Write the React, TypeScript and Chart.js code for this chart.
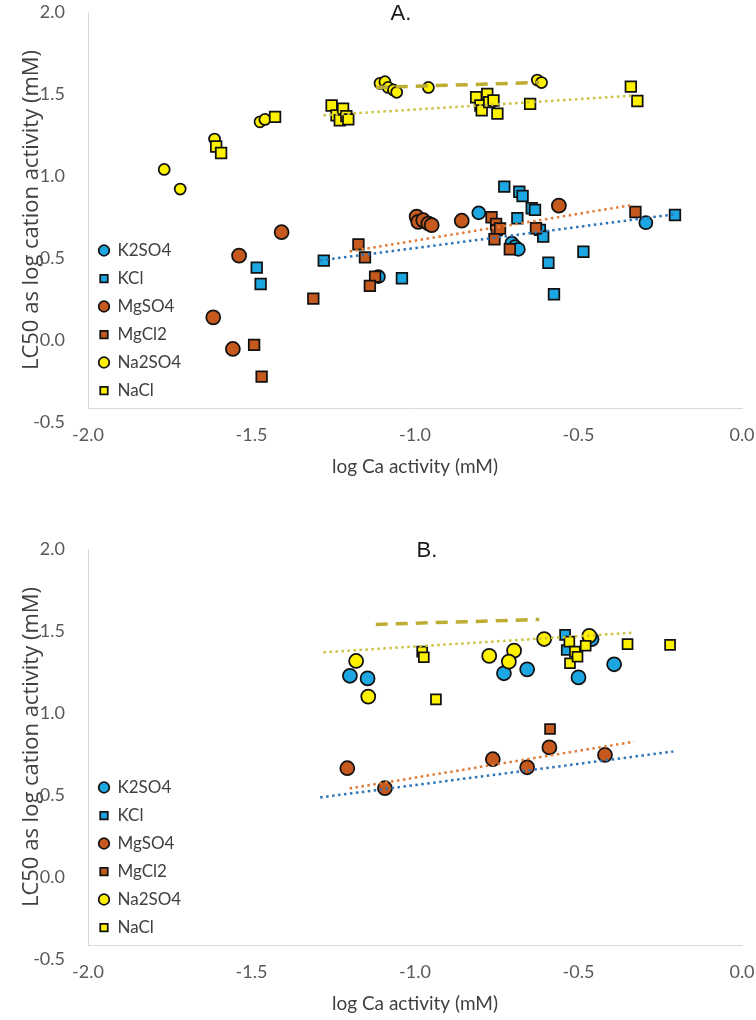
import React, { useEffect, useRef } from "react";
import { Chart, registerables } from "chart.js";

Chart.register(...registerables);

type P = [number, number];

// ---------- Panel A data: [log Ca activity, LC50 as log cation activity] ----------
const A_K2SO4: P[] = [[-1.112, 0.386], [-0.805, 0.775], [-0.704, 0.59], [-0.694, 0.569], [-0.684, 0.553], [-0.294, 0.715]];
const A_KCl: P[] = [[-1.484, 0.441], [-1.472, 0.341], [-1.279, 0.484], [-1.04, 0.376], [-0.727, 0.935], [-0.681, 0.904], [-0.671, 0.878], [-0.643, 0.803], [-0.633, 0.793], [-0.687, 0.742], [-0.618, 0.671], [-0.608, 0.63], [-0.485, 0.538], [-0.592, 0.471], [-0.575, 0.279], [-0.205, 0.762]];
const A_MgSO4: P[] = [[-1.408, 0.657], [-1.538, 0.514], [-1.617, 0.138], [-1.557, -0.055], [-0.995, 0.752], [-0.99, 0.72], [-0.975, 0.73], [-0.959, 0.71], [-0.949, 0.7], [-0.857, 0.727], [-0.56, 0.819]];
const A_MgCl2: P[] = [[-1.173, 0.583], [-1.153, 0.504], [-1.122, 0.386], [-1.138, 0.33], [-1.311, 0.252], [-1.492, -0.03], [-1.469, -0.224], [-0.766, 0.748], [-0.752, 0.707], [-0.75, 0.67], [-0.74, 0.68], [-0.757, 0.614], [-0.71, 0.553], [-0.63, 0.681], [-0.326, 0.78]];
const A_Na2SO4: P[] = [[-1.767, 1.04], [-1.718, 0.92], [-1.613, 1.225], [-1.474, 1.33], [-1.459, 1.345], [-1.107, 1.565], [-1.092, 1.575], [-1.082, 1.54], [-1.066, 1.525], [-1.056, 1.51], [-0.959, 1.54], [-0.626, 1.585], [-0.613, 1.57]];
const A_NaCl: P[] = [[-1.608, 1.18], [-1.593, 1.14], [-1.428, 1.36], [-1.255, 1.43], [-1.24, 1.37], [-1.23, 1.34], [-1.22, 1.41], [-1.21, 1.365], [-1.204, 1.345], [-0.813, 1.48], [-0.779, 1.5], [-0.8, 1.43], [-0.796, 1.4], [-0.773, 1.45], [-0.76, 1.46], [-0.748, 1.38], [-0.648, 1.44], [-0.34, 1.545], [-0.32, 1.457]];

// ---------- Panel B data ----------
const B_K2SO4: P[] = [[-1.199, 1.227], [-1.145, 1.211], [-0.728, 1.242], [-0.657, 1.266], [-0.5, 1.217], [-0.46, 1.45], [-0.391, 1.297]];
const B_KCl: P[] = [[-0.541, 1.476], [-0.536, 1.384]];
const B_MgSO4: P[] = [[-1.207, 0.663], [-1.092, 0.541], [-0.762, 0.718], [-0.657, 0.669], [-0.589, 0.79], [-0.419, 0.744]];
const B_MgCl2: P[] = [[-0.587, 0.902]];
const B_Na2SO4: P[] = [[-1.18, 1.317], [-1.143, 1.1], [-0.773, 1.348], [-0.697, 1.38], [-0.713, 1.313], [-0.605, 1.451], [-0.467, 1.47]];
const B_NaCl: P[] = [[-0.978, 1.374], [-0.973, 1.34], [-0.936, 1.083], [-0.528, 1.435], [-0.511, 1.374], [-0.526, 1.303], [-0.503, 1.343], [-0.478, 1.41], [-0.35, 1.42], [-0.22, 1.415]];

// ---------- Trend lines (same in both panels) ----------
const TREND_K: P[] = [[-1.29, 0.485], [-0.21, 0.765]];
const TREND_MG: P[] = [[-1.2, 0.54], [-0.33, 0.825]];
const TREND_NACL: P[] = [[-1.28, 1.37], [-0.33, 1.49]];
const TREND_NA2SO4: P[] = [[-1.12, 1.54], [-0.62, 1.57]];

const SERIES_NAMES = ["K2SO4", "KCl", "MgSO4", "MgCl2", "Na2SO4", "NaCl"];
const X_TICKS = [-2.0, -1.5, -1.0, -0.5, 0.0];
const Y_TICKS = [-0.5, 0.0, 0.5, 1.0, 1.5, 2.0];
const X_MIN = -2;
const X_MAX = 0;
const Y_MAX = 2;
const Y_AXIS_CROSS = -0.415; // horizontal axis line sits slightly above the -0.5 label

const FILLS = ["#1DA7E2", "#1DA7E2", "#C65A1E", "#C65A1E", "#FFF200", "#FFF200"];
const STYLES = ["circle", "rect", "circle", "rect", "circle", "rect"];
const RADII_A = [6.5, 7.5, 7, 7.5, 5.5, 7.5];
const RADII_B = [7, 7, 7, 7, 7, 7];

const TRENDS: { data: P[]; color: string; width: number; dash: number[] }[] = [
  { data: TREND_K, color: "#2E75B6", width: 2.5, dash: [2.5, 3.5] },
  { data: TREND_MG, color: "#E07B39", width: 2.5, dash: [2.5, 3.5] },
  { data: TREND_NACL, color: "#CBC23E", width: 2.5, dash: [2.5, 3.5] },
  { data: TREND_NA2SO4, color: "#BDAE33", width: 3.5, dash: [12, 8] },
];

const W = 756;
const H = 483;

function placer(cx: number) {
  return {
    id: "placer",
    afterLayout(chart: any) {
      const t = chart.titleBlock;
      if (t) {
        const half = (t.right - t.left) / 2;
        t.left = cx - half;
        t.right = cx + half;
      }
      const lg = chart.legend;
      if (lg && chart.chartArea) {
        lg.top = chart.chartArea.top;
        lg.bottom = chart.chartArea.bottom + 2;
      }
    },
  };
}

function makeConfig(label: string, series: P[][], radii: number[], titleCx: number): any {
  const datasets: any[] = series.map((pts, i) => ({
    label: SERIES_NAMES[i],
    data: pts.map(([x, y]) => ({ x, y })),
    pointStyle: STYLES[i],
    pointRadius: radii[i],
    pointHoverRadius: radii[i],
    backgroundColor: FILLS[i],
    borderColor: "#111111",
    borderWidth: 1.75,
    showLine: false,
    order: 6 - i,
  }));
  TRENDS.forEach((t, k) => {
    datasets.push({
      label: "trend" + k,
      data: t.data.map(([x, y]) => ({ x, y })),
      showLine: true,
      pointRadius: 0,
      pointHoverRadius: 0,
      borderColor: t.color,
      backgroundColor: t.color,
      borderWidth: t.width,
      borderDash: t.dash,
      borderCapStyle: "butt",
      fill: false,
      order: 0,
    });
  });

  return {
    type: "scatter",
    data: { datasets },
    options: {
      responsive: false,
      animation: false,
      devicePixelRatio: 1,
      events: [],
      layout: { padding: { left: 0, right: 14, top: 0, bottom: 0 } },
      plugins: {
        title: {
          display: true,
          text: label,
          fullSize: false,
          color: "#1a1a1a",
          font: { family: "'Liberation Sans', Arial, sans-serif", size: 22, weight: "normal", lineHeight: 1 },
          padding: { top: 2.5, bottom: -12.5 },
        },
        legend: {
          position: "chartArea",
          align: "end",
          labels: {
            usePointStyle: true,
            boxWidth: 10,
            boxHeight: 7.5,
            padding: 11,
            color: "#404040",
            font: { family: "Lato", size: 17 },
            filter: (item: any) => item.datasetIndex < 6,
            sort: (a: any, b: any) => a.datasetIndex - b.datasetIndex,
          },
        },
        tooltip: { enabled: false },
      },
      scales: {
        x: {
          type: "linear",
          position: "bottom",
          min: X_MIN,
          max: X_MAX,
          afterFit: (s: any) => {
            s.height = 75;
            s.paddingLeft = 0;
            s.paddingRight = 0;
          },
          afterBuildTicks: (s: any) => {
            s.ticks = X_TICKS.map((v) => ({ value: v }));
          },
          grid: { display: false },
          border: { display: true, color: "#D9D9D9", width: 1 },
          ticks: {
            color: "#595959",
            font: { family: "Lato", size: 18 },
            padding: 8,
            maxRotation: 0,
            autoSkip: false,
            callback: (v: any) => Number(v).toFixed(1),
          },
          title: {
            display: true,
            text: "log Ca activity (mM)",
            color: "#404040",
            font: { family: "Lato", size: 19 },
            padding: { top: 0, bottom: 5 },
          },
        },
        y: {
          type: "linear",
          min: Y_AXIS_CROSS,
          max: Y_MAX,
          afterFit: (s: any) => {
            s.width = 88;
            s.paddingTop = 0;
            s.paddingBottom = 0;
          },
          afterBuildTicks: (s: any) => {
            s.ticks = Y_TICKS.map((v) => ({ value: v }));
          },
          grid: { display: false },
          border: { display: true, color: "#D9D9D9", width: 1 },
          ticks: {
            color: "#595959",
            font: { family: "Lato", size: 18 },
            padding: 15,
            autoSkip: false,
            callback: (v: any) => Number(v).toFixed(1),
          },
          title: {
            display: true,
            text: "LC50 as log cation activity (mM)",
            color: "#404040",
            font: { family: "'Open Sans'", size: 22 },
            padding: { top: 19, bottom: 0 },
          },
        },
      },
    },
    plugins: [placer(titleCx)],
  };
}

function Panel({ top, factory }: { top: number; factory: () => any }) {
  const ref = useRef<HTMLCanvasElement | null>(null);
  useEffect(() => {
    if (!ref.current) return;
    const chart = new Chart(ref.current, factory());
    return () => chart.destroy();
  }, []);
  return (
    <canvas
      ref={ref}
      width={W}
      height={H}
      style={{ position: "absolute", left: 0, top, width: W, height: H, display: "block" }}
    />
  );
}

export default function App() {
  return (
    <div style={{ position: "absolute", left: 0, top: 0, width: 756, height: 1020, background: "#ffffff" }}>
      <Panel
        top={0}
        factory={() => makeConfig("A.", [A_K2SO4, A_KCl, A_MgSO4, A_MgCl2, A_Na2SO4, A_NaCl], RADII_A, 401)}
      />
      <Panel
        top={537}
        factory={() => makeConfig("B.", [B_K2SO4, B_KCl, B_MgSO4, B_MgCl2, B_Na2SO4, B_NaCl], RADII_B, 427)}
      />
    </div>
  );
}
